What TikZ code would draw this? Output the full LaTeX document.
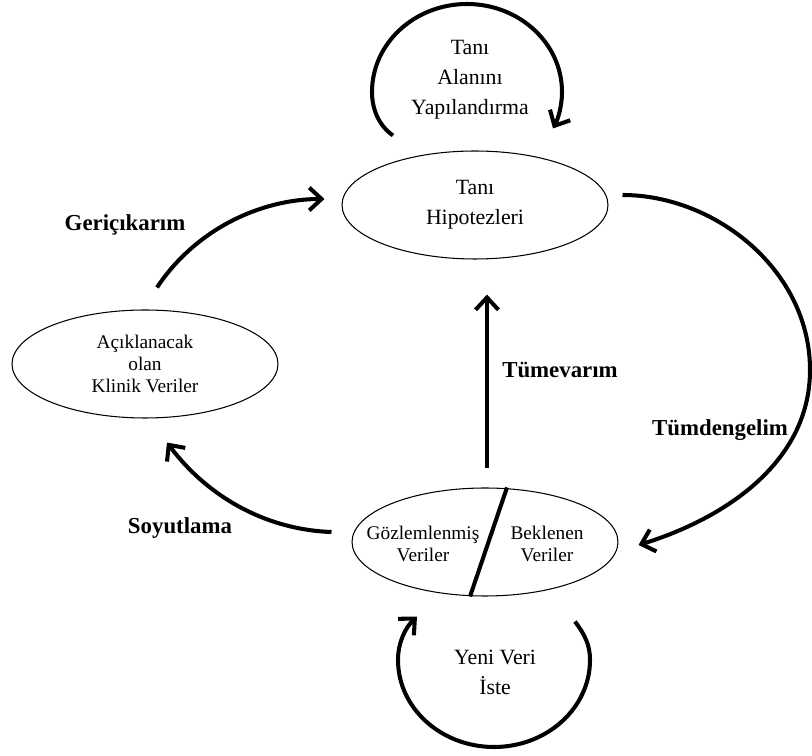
\documentclass[tikz,border=0pt]{standalone}
\usepackage{fontspec}
\setmainfont{Liberation Serif}
\usetikzlibrary{arrows.meta,calc,shapes.geometric}
\tikzset{flow/.style={line width=2.3pt, -{Straight Barb[length=7pt,width=13pt]}},
  bubble/.style={draw, ellipse, line width=0.6pt, minimum width=5.32cm, minimum height=2.16cm, inner sep=0pt, align=center},
  small/.style={font=\fontsize{11}{12.5}\selectfont},
  lbl/.style={font=\fontsize{13}{15}\selectfont\bfseries}}

\begin{document}
\begin{tikzpicture}[x=0.02cm, y=-0.02cm, font=\fontsize{12.4}{17}\selectfont]
  \useasboundingbox (0,0) rectangle (812,756);
  % ellipses
  \node[bubble] (hyp) at (475,205) {Tanı\\Hipotezleri};
  \node[bubble, small] (klinik) at (145,364) {Açıklanacak\\olan\\Klinik Veriler};
  \node[bubble] (veri) at (485,542) {};
  \node[align=center, small] (gozlem) at ($(veri)+(-62,2)$) {Gözlemlenmiş\\Veriler};
  \node[align=center, small] (bekle) at ($(veri)+(62,2)$) {Beklenen\\Veriler};
  \draw[line width=2.3pt] ($(veri.north)+(22,0)$) -- ($(veri.south)+(-15,0)$);
  % loop texts
  \node[align=center] (alan) at (470,80) {Tanı\\Alanını\\Yapılandırma};
  \node[align=center] (yeni) at (495,672) {Yeni Veri\\İste};
  % labels
  \node[lbl] (geri) at (125,225) {Geriçıkarım};
  \node[lbl] (tumev) at (560,370) {Tümevarım};
  \node[lbl] (tumden) at (720,430) {Tümdengelim};
  \node[lbl] (soyut) at (180,528) {Soyutlama};
  % self loops
  \draw[flow] ($(hyp.north)+(-82,-15)$) .. controls (378,125) and (372,108) .. (372,92)
    .. controls (372,43) and (415,4) .. (467,4) .. controls (519,4) and (562,43) .. (562,92)
    .. controls (562,106) and (558,119) .. ($(hyp.north)+(78,-22)$);
  \draw[flow] ($(veri.south)+(90,25)$) .. controls (585,635) and (590,645) .. (590,660)
    .. controls (590,708) and (547,747) .. (494,747) .. controls (441,747) and (398,708) .. (398,660)
    .. controls (398,643) and (405,628) .. ($(veri.south)+(-68,20)$);
  % cycle
  \draw[flow] ($(hyp.east)+(14,-10)$) .. controls (715,195) and (810,270) .. (810,370)
    .. controls (810,465) and (720,520) .. ($(veri.east)+(20,3)$);
  \draw[flow] ($(veri.north)+(2,-19)$) -- ($(hyp.south)+(12,35)$);
  \draw[flow] ($(klinik.north)+(12,-22)$) .. controls (195,230) and (260,199) .. ($(hyp.west)+(-17,-6)$);
  \draw[flow] ($(veri.west)+(-20,-10)$) .. controls (270,530) and (210,500) .. ($(klinik.south)+(22,24)$);
\end{tikzpicture}
\end{document}
